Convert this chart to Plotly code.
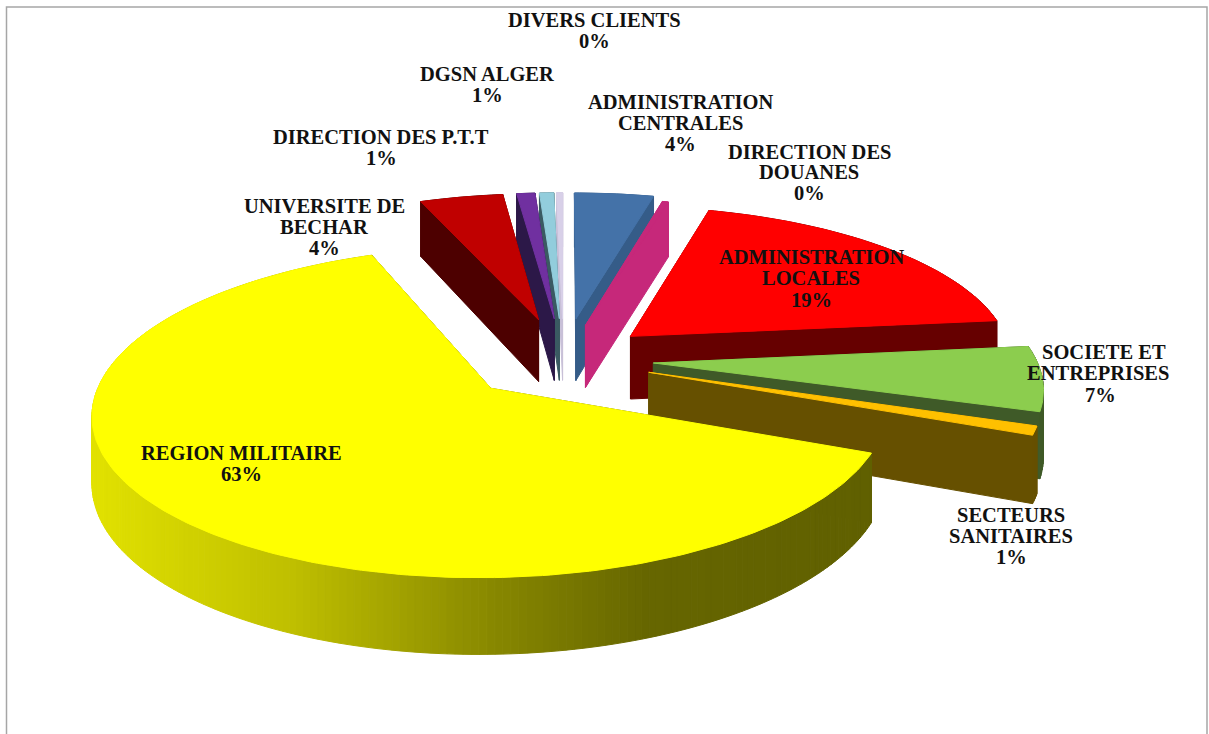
import math
import plotly.graph_objects as go

categories = ["ADMINISTRATION CENTRALES", "DIRECTION DES DOUANES", "ADMINISTRATION LOCALES",
              "SOCIETE ET ENTREPRISES", "SECTEURS SANITAIRES", "REGION MILITAIRE",
              "UNIVERSITE DE BECHAR", "DIRECTION DES P.T.T", "DGSN ALGER", "DIVERS CLIENTS"]
values = [3.9, 0.3, 19.1, 6.6, 0.9, 62.9, 4.1, 0.9, 0.7, 0.3]
top_colors = ["#4472a8", "#c6287a", "#ff0000", "#8ccd4e", "#ffc000", "#ffff00",
              "#c00000", "#7030a0", "#92cddc", "#d8d0e8"]
wall_colors = ["#355c88", "#c6287a", "#660000", "#3f5a28", "#665000", "#666600",
               "#4d0000", "#2c1848", "#3a5a62", "#c8c0d8"]
explode = [0.275, 0.235, 0.235, 0.235, 0.235, 0.26, 0.275, 0.275, 0.275, 0.275]
gap_before = [0, 0, 0, 0, 0.4, 0, 0, 0, 0, 0]

label_lines = [
    (["ADMINISTRATION", "CENTRALES", "4%"], [(680, 102), (680, 123), (680, 144)]),
    (["DIRECTION DES", "DOUANES", "0%"], [(809, 152), (809, 172), (809, 193)]),
    (["ADMINISTRATION", "LOCALES", "19%"], [(811, 257), (811, 278), (811, 300)]),
    (["SOCIETE ET", "ENTREPRISES", "7%"], [(1104, 352), (1098, 373), (1100, 395)]),
    (["SECTEURS", "SANITAIRES", "1%"], [(1011, 515), (1011, 536), (1011, 557)]),
    (["REGION MILITAIRE", "63%"], [(241, 453), (241, 474)]),
    (["UNIVERSITE DE", "BECHAR", "4%"], [(324, 206), (324, 227), (324, 248)]),
    (["DIRECTION DES P.T.T", "1%"], [(381, 137), (381, 158)]),
    (["DGSN ALGER", "1%"], [(487, 74), (487, 95)]),
    (["DIVERS CLIENTS", "0%"], [(594, 20), (594, 41)]),
]

CX, CY = 563.5, 359.4
A, B = 383.0, 154.0
P = 0.14
H = 64.0


def project(u, v, z=0.0):
    s = 1.0 / (1.0 + P * v)
    return CX + A * u * s, CY - B * v * s + H * z * s


def yellow_shade(x):
    stops = [(92, 226), (300, 190), (500, 135), (650, 102), (870, 96)]
    for (x0, c0), (x1, c1) in zip(stops, stops[1:]):
        if x <= x1:
            t = max(0.0, (x - x0) / (x1 - x0))
            c = c0 + (c1 - c0) * t
            return f"rgb({c:.0f},{c:.0f},0)"
    return "rgb(96,96,0)"


fig = go.Figure()


def poly(points, color, name):
    xs = [p[0] for p in points] + [points[0][0]]
    ys = [p[1] for p in points] + [points[0][1]]
    fig.add_trace(go.Scatter(x=xs, y=ys, mode="lines", fill="toself", fillcolor=color,
                             line=dict(color=color, width=1), name=name,
                             hoverinfo="name", showlegend=False))


total = sum(values) + sum(gap_before)
angle = 0.0
slices = []
for name, val, top, wall, ex, gap in zip(categories, values, top_colors, wall_colors, explode, gap_before):
    angle += 360.0 * gap / total
    sweep = 360.0 * val / total
    slices.append(dict(name=name, a0=angle, a1=angle + sweep, top=top, wall=wall, ex=ex))
    angle += sweep

draw_order = [9, 8, 7, 6, 0, 1, 2, 3, 4, 5]
for idx in draw_order:
    sl = slices[idx]
    mid = math.radians((sl["a0"] + sl["a1"]) / 2)
    ou, ov = sl["ex"] * math.sin(mid), sl["ex"] * math.cos(mid)
    n = max(2, int(sl["a1"] - sl["a0"]) + 2)
    rim = []
    for k in range(n):
        a = math.radians(sl["a0"] + (sl["a1"] - sl["a0"]) * k / (n - 1))
        rim.append((ou + math.sin(a), ov + math.cos(a)))
    walls = []
    walls.append(((ou, ov), rim[0], sl["wall"]))
    walls.append(((ou, ov), rim[-1], sl["wall"]))
    for p, q in zip(rim, rim[1:]):
        color = sl["wall"]
        if idx == 5:
            color = yellow_shade(project(*p)[0])
        walls.append((p, q, color))
    walls.sort(key=lambda w: -(w[0][1] + w[1][1]))
    for p, q, color in walls:
        poly([project(*p), project(*q), project(q[0], q[1], 1), project(p[0], p[1], 1)], color, sl["name"])
    poly([project(ou, ov)] + [project(*p) for p in rim], sl["top"], sl["name"])

annotations = []
for lines, positions in label_lines:
    for text, (x, y) in zip(lines, positions):
        annotations.append(dict(x=x, y=y, xref="x", yref="y", text=f"<b>{text}</b>", showarrow=False,
                                xanchor="center", yanchor="middle",
                                font=dict(family="Liberation Serif", size=20.5, color="#111111")))

fig.update_layout(
    width=1209, height=734, margin=dict(l=0, r=0, t=0, b=0),
    paper_bgcolor="white", plot_bgcolor="white", showlegend=False,
    xaxis=dict(range=[0, 1209], visible=False, fixedrange=True),
    yaxis=dict(range=[734, 0], visible=False, fixedrange=True),
    annotations=annotations,
    shapes=[dict(type="rect", xref="x", yref="y", x0=6.5, y0=7, x1=1207, y1=745,
                 line=dict(color="#a6a6a6", width=1.5))],
)
fig.write_html("out.html", config=dict(displayModeBar=False),
               post_script="document.body.style.margin='0';document.body.style.overflow='hidden';")
